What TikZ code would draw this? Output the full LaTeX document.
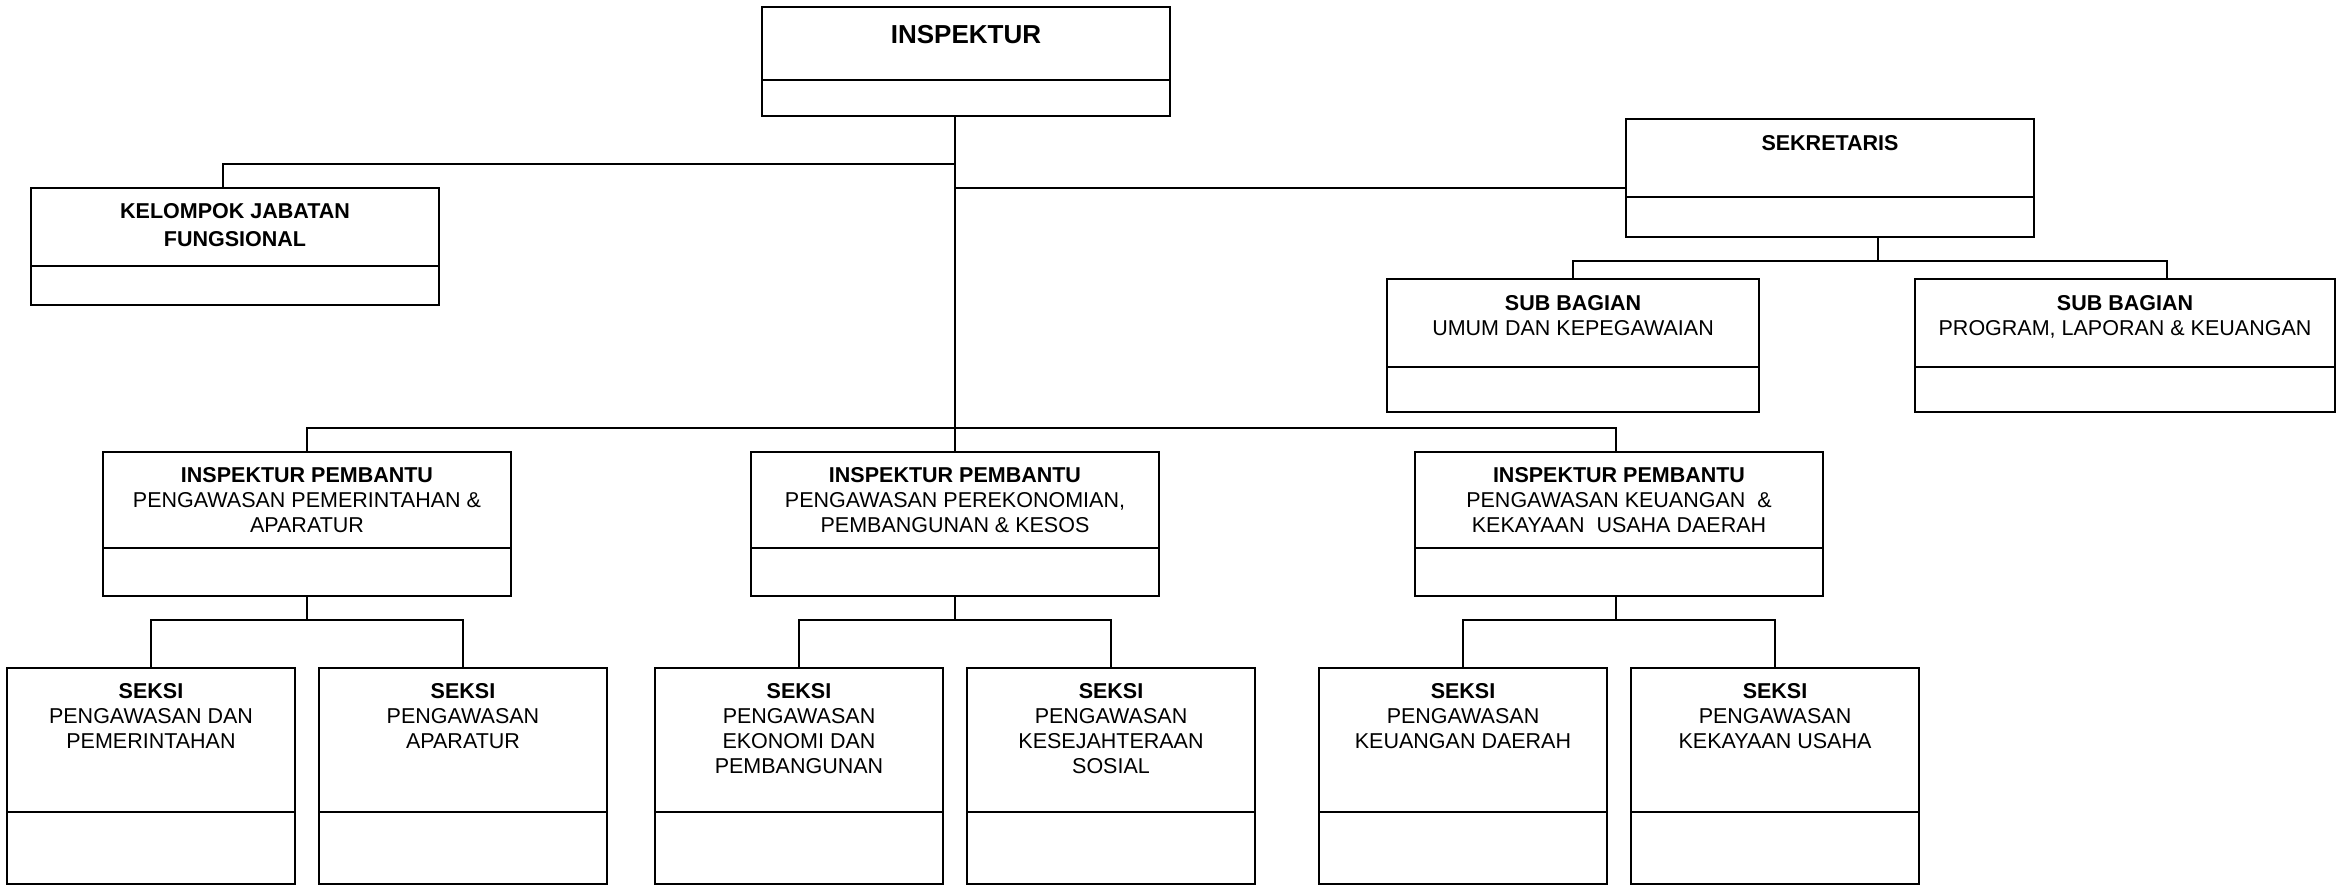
\documentclass[tikz,border=0pt]{standalone}
\usepackage{fontspec}
\setmainfont{Liberation Sans}
\usetikzlibrary{positioning}

\begin{document}
\begin{tikzpicture}[
        x=1pt,y=-1pt,
        frame/.style={draw,rectangle,line width=1.8pt,inner sep=0pt,outer sep=0pt},
        lbl/.style={anchor=north,inner sep=0pt,align=center,font=\fontsize{21.5}{25}\selectfont},
        link/.style={draw,line width=1.8pt},
      ]
      \useasboundingbox (0,0) rectangle (2336,886);
%
      \node[frame,minimum width=408pt,minimum height=73pt] at (966,43.5) (insp) {};
      \node[frame,minimum width=408pt,minimum height=36pt,below=0pt of insp] (inspb) {};
      \node[lbl,font=\fontsize{26}{30}\selectfont\bfseries] at ([yshift=-18pt]insp.north) (insplabel) {INSPEKTUR};
%
      \node[frame,minimum width=408pt,minimum height=78pt] at (235,227) (kjf) {};
      \node[frame,minimum width=408pt,minimum height=39pt,below=0pt of kjf] (kjfb) {};
      \node[lbl,font=\fontsize{21.5}{28}\selectfont\bfseries] at ([yshift=-15pt]kjf.north) (kjflabel) {KELOMPOK JABATAN\\FUNGSIONAL};
%
      \node[frame,minimum width=408pt,minimum height=78pt] at (1830,158) (sekr) {};
      \node[frame,minimum width=408pt,minimum height=40pt,below=0pt of sekr] (sekrb) {};
      \node[lbl] at ([yshift=-16pt]sekr.north) (sekrlabel) {\textbf{SEKRETARIS}};
%
      \node[frame,minimum width=372pt,minimum height=88pt] at (1573,323) (sb1) {};
      \node[frame,minimum width=372pt,minimum height=45pt,below=0pt of sb1] (sb1b) {};
      \node[lbl] at ([yshift=-16pt]sb1.north) (sb1label) {\textbf{SUB BAGIAN}\\UMUM DAN KEPEGAWAIAN};
%
      \node[frame,minimum width=420pt,minimum height=88pt] at (2125,323) (sb2) {};
      \node[frame,minimum width=420pt,minimum height=45pt,below=0pt of sb2] (sb2b) {};
      \node[lbl] at ([yshift=-16pt]sb2.north) (sb2label) {\textbf{SUB BAGIAN}\\PROGRAM, LAPORAN \& KEUANGAN};
%
      \node[frame,minimum width=408pt,minimum height=96pt] at (307,500) (ip1) {};
      \node[frame,minimum width=408pt,minimum height=48pt,below=0pt of ip1] (ip1b) {};
      \node[lbl] at ([yshift=-15pt]ip1.north) (ip1label) {\textbf{INSPEKTUR PEMBANTU}\\PENGAWASAN PEMERINTAHAN \&\\APARATUR};
%
      \node[frame,minimum width=408pt,minimum height=96pt] at (955,500) (ip2) {};
      \node[frame,minimum width=408pt,minimum height=48pt,below=0pt of ip2] (ip2b) {};
      \node[lbl] at ([yshift=-15pt]ip2.north) (ip2label) {\textbf{INSPEKTUR PEMBANTU}\\PENGAWASAN PEREKONOMIAN,\\PEMBANGUNAN \& KESOS};
%
      \node[frame,minimum width=408pt,minimum height=96pt] at (1619,500) (ip3) {};
      \node[frame,minimum width=408pt,minimum height=48pt,below=0pt of ip3] (ip3b) {};
      \node[lbl] at ([yshift=-15pt]ip3.north) (ip3label) {\textbf{INSPEKTUR PEMBANTU}\\PENGAWASAN KEUANGAN~ \&\\KEKAYAAN~ USAHA DAERAH};
%
      \node[frame,minimum width=288pt,minimum height=144pt] at (151,740) (s1) {};
      \node[frame,minimum width=288pt,minimum height=72pt,below=0pt of s1] (s1b) {};
      \node[lbl] at ([yshift=-15pt]s1.north) (s1label) {\textbf{SEKSI}\\PENGAWASAN DAN\\PEMERINTAHAN};
%
      \node[frame,minimum width=288pt,minimum height=144pt] at (463,740) (s2) {};
      \node[frame,minimum width=288pt,minimum height=72pt,below=0pt of s2] (s2b) {};
      \node[lbl] at ([yshift=-15pt]s2.north) (s2label) {\textbf{SEKSI}\\PENGAWASAN\\APARATUR};
%
      \node[frame,minimum width=288pt,minimum height=144pt] at (799,740) (s3) {};
      \node[frame,minimum width=288pt,minimum height=72pt,below=0pt of s3] (s3b) {};
      \node[lbl] at ([yshift=-15pt]s3.north) (s3label) {\textbf{SEKSI}\\PENGAWASAN\\EKONOMI DAN\\PEMBANGUNAN};
%
      \node[frame,minimum width=288pt,minimum height=144pt] at (1111,740) (s4) {};
      \node[frame,minimum width=288pt,minimum height=72pt,below=0pt of s4] (s4b) {};
      \node[lbl] at ([yshift=-15pt]s4.north) (s4label) {\textbf{SEKSI}\\PENGAWASAN\\KESEJAHTERAAN\\SOSIAL};
%
      \node[frame,minimum width=288pt,minimum height=144pt] at (1463,740) (s5) {};
      \node[frame,minimum width=288pt,minimum height=72pt,below=0pt of s5] (s5b) {};
      \node[lbl] at ([yshift=-15pt]s5.north) (s5label) {\textbf{SEKSI}\\PENGAWASAN\\KEUANGAN DAERAH};
%
      \node[frame,minimum width=288pt,minimum height=144pt] at (1775,740) (s6) {};
      \node[frame,minimum width=288pt,minimum height=72pt,below=0pt of s6] (s6b) {};
      \node[lbl] at ([yshift=-15pt]s6.north) (s6label) {\textbf{SEKSI}\\PENGAWASAN\\KEKAYAAN USAHA};
%
      \coordinate (jkjf) at (955,164);
      \coordinate (jsek) at (955,188);
      \coordinate (jsb) at (1878,261);
      \coordinate (bus) at (955,428);
%
      \path[link] (inspb.south -| ip2.north) -- (ip2.north);
      \path[link] ([xshift=-12pt]kjf.north) |- (jkjf);
      \path[link] (jsek) -- (jsek -| sekr.west);
      \path[link] (jsb |- sekrb.south) -- (jsb);
      \path[link] (sb1.north) |- (jsb) -| ([xshift=42pt]sb2.north);
      \path[link] (ip1.north) |- (bus) -| ([xshift=-3pt]ip3.north);
%
      \path[link] (ip1b.south) -- ++(0,24) coordinate (j1);
      \path[link] (s1.north) |- (j1) -| (s2.north);
      \path[link] (ip2b.south) -- ++(0,24) coordinate (j2);
      \path[link] (s3.north) |- (j2) -| (s4.north);
      \path[link] ([xshift=-3pt]ip3b.south) -- ++(0,24) coordinate (j3);
      \path[link] (s5.north) |- (j3) -| (s6.north);
    \end{tikzpicture}
\end{document}
